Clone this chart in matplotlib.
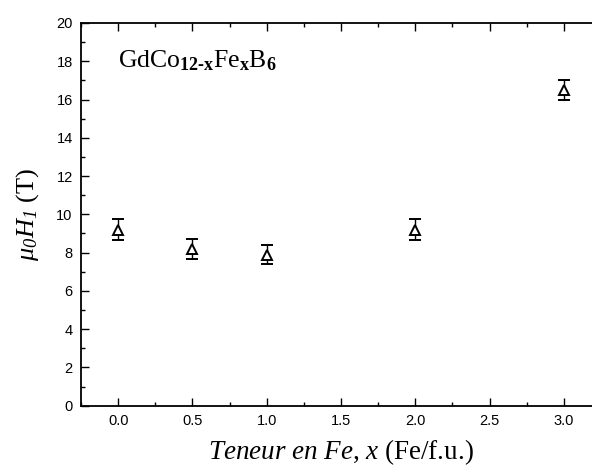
import matplotlib
matplotlib.use("Agg")
import matplotlib.pyplot as plt
from matplotlib.ticker import MultipleLocator

x_fe = [0.0, 0.5, 1.0, 2.0, 3.0]
h_field = [9.2, 8.2, 7.9, 9.2, 16.5]
h_err = [0.55, 0.52, 0.5, 0.55, 0.52]
x_ticks = [0.0, 0.5, 1.0, 1.5, 2.0, 2.5, 3.0]
y_ticks = [0, 2, 4, 6, 8, 10, 12, 14, 16, 18, 20]

plt.rcParams['mathtext.fontset'] = 'custom'
plt.rcParams['mathtext.rm'] = 'Liberation Serif'
plt.rcParams['mathtext.it'] = 'Liberation Serif:italic'
plt.rcParams['mathtext.sf'] = 'Liberation Serif:italic'
plt.rcParams['mathtext.bf'] = 'Liberation Serif:bold'

fig = plt.figure(figsize=(5.92, 4.66), dpi=100)
ax = fig.add_axes([81/592, 1-405.7/466, (601-81)/592, (405.7-23)/466])

ax.errorbar(x_fe, h_field, yerr=h_err, fmt='^', mfc='white', mec='black',
            ms=6.5, mew=1.4, ecolor='black', elinewidth=1.0, capsize=4.5, capthick=1.0)

ax.set_xlim(-0.25, 3.25)
ax.set_ylim(0, 20)
ax.set_xticks(x_ticks)
ax.set_xticklabels([f"{v:.1f}" for v in x_ticks])
ax.set_yticks(y_ticks)
ax.xaxis.set_minor_locator(MultipleLocator(0.25))
ax.yaxis.set_minor_locator(MultipleLocator(1))
ax.tick_params(which='both', direction='in', top=True, right=True, width=1.0,
               labelsize=10.5, pad=6)
ax.tick_params(which='major', length=6)
ax.tick_params(which='minor', length=3)
for lab in ax.get_xticklabels() + ax.get_yticklabels():
    lab.set_fontfamily('Liberation Sans')
for s in ax.spines.values():
    s.set_linewidth(1.3)

ax.set_xlabel(r'$\mathit{Teneur\ en\ Fe}{,}\ \mathit{x}$ (Fe/f.u.)', fontfamily='Liberation Serif',
              fontsize=19.5, labelpad=6.5)
ax.set_ylabel(r'$\mu_{\mathsf{0}}H_{\mathsf{1}}$ (T)', fontfamily='Liberation Serif',
              fontsize=19, labelpad=11)

ax.text(0.0, 17.7, r'GdCo$_{\mathbf{12‐x}}$Fe$_{\mathbf{x}}$B$_{\mathbf{6}}$',
        fontfamily='Liberation Serif', fontsize=18.5, ha='left', va='baseline')

fig.savefig('out.png', dpi=100)
